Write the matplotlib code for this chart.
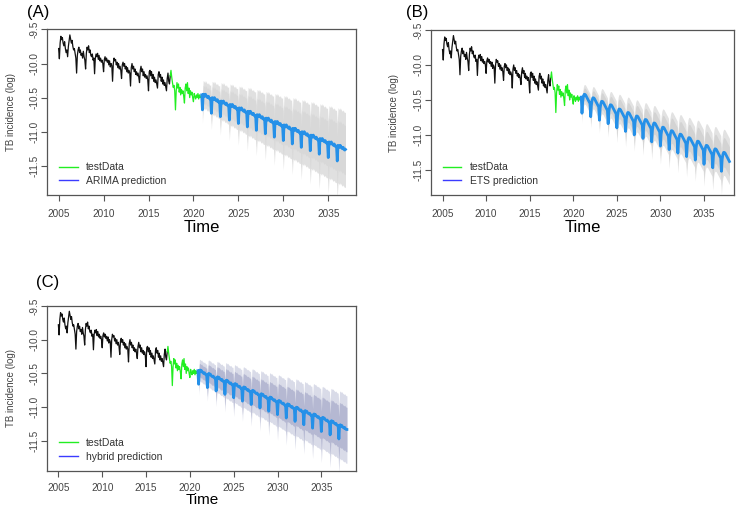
import numpy as np
import matplotlib
matplotlib.use("agg")
from matplotlib import pyplot as plt
from matplotlib.lines import Line2D

plt.rcParams['font.family'] = ['Liberation Sans', 'DejaVu Sans']

# observed series (log incidence), monthly from Jan 2005
train_start = 2005.0
train_vals = [
    -9.78, -9.93, -9.70, -9.60, -9.65, -9.62, -9.70, -9.74, -9.68, -9.78, -9.84, -9.80,
    -9.90, -9.75, -9.66, -9.58, -9.64, -9.70, -9.66, -9.75, -9.80, -9.78, -9.85, -9.92,
    -10.14, -9.88, -9.80, -9.76, -9.84, -9.80, -9.88, -9.85, -9.92, -9.82, -9.90, -9.95,
    -10.08, -9.85, -9.76, -9.80, -9.74, -9.84, -9.80, -9.88, -9.90, -9.86, -9.95, -9.92,
    -10.15, -9.92, -9.86, -9.90, -9.85, -9.94, -9.88, -9.96, -9.92, -9.98, -9.95, -10.00,
    -10.12, -9.94, -9.90, -9.96, -9.92, -9.98, -9.95, -10.02, -9.96, -10.05, -10.00, -10.03,
    -10.26, -10.00, -9.92, -9.96, -9.94, -10.02, -9.98, -10.06, -10.00, -10.08, -10.04, -10.10,
    -10.22, -10.02, -9.98, -10.04, -10.00, -10.08, -10.04, -10.12, -10.06, -10.14, -10.10, -10.14,
    -10.33, -10.06, -10.00, -10.08, -10.04, -10.12, -10.08, -10.16, -10.12, -10.18, -10.14, -10.20,
    -10.28, -10.10, -10.04, -10.12, -10.08, -10.18, -10.12, -10.20, -10.16, -10.22, -10.18, -10.24,
    -10.40, -10.12, -10.10, -10.18, -10.12, -10.22, -10.16, -10.26, -10.20, -10.28, -10.24, -10.30,
    -10.36, -10.16, -10.12, -10.20, -10.16, -10.26, -10.20, -10.30, -10.24, -10.32, -10.28, -10.34,
    -10.40, -10.22, -10.14, -10.26, -10.30, -10.18,
]
# test data, monthly from Jul 2017
test_vals = [
    -10.10, -10.20, -10.28, -10.35, -10.32, -10.40,
    -10.68, -10.40, -10.28, -10.36, -10.30, -10.42, -10.35, -10.46, -10.38, -10.44, -10.40, -10.48,
    -10.58, -10.36, -10.30, -10.40, -10.28, -10.44, -10.36, -10.50, -10.40, -10.46, -10.42, -10.50,
    -10.56, -10.44, -10.48, -10.52, -10.46, -10.50, -10.44, -10.52, -10.46, -10.50, -10.48, -10.46,
]

# forecasts from Jan 2021: yearly level + monthly seasonal offset, interval half widths per year
arima_level = [-10.48, -10.53, -10.58, -10.63, -10.68, -10.73, -10.78, -10.83,
               -10.88, -10.93, -10.98, -11.03, -11.08, -11.13, -11.18, -11.23]
arima_season = [-0.20, 0.03, 0.02, 0.00, 0.03, 0.01, -0.01, -0.02, 0.00, -0.03, -0.04, -0.03]
arima_w95 = [0.20, 0.24, 0.27, 0.30, 0.32, 0.35, 0.37, 0.39,
             0.41, 0.43, 0.45, 0.47, 0.49, 0.51, 0.53, 0.55]
arima_w80 = [0.13, 0.16, 0.18, 0.20, 0.21, 0.23, 0.24, 0.25,
             0.27, 0.28, 0.29, 0.31, 0.32, 0.33, 0.35, 0.36]

ets_level = [-10.47, -10.52, -10.57, -10.62, -10.68, -10.73, -10.78, -10.83, -10.88,
             -10.94, -10.99, -11.04, -11.09, -11.14, -11.20, -11.25, -11.30]
ets_season = [-0.22, -0.05, 0.02, 0.05, 0.05, 0.04, 0.02, 0.00, -0.02, -0.04, -0.06, -0.08]
ets_w95 = [0.14, 0.16, 0.18, 0.19, 0.21, 0.22, 0.23, 0.24, 0.25,
           0.26, 0.27, 0.28, 0.29, 0.30, 0.31, 0.32, 0.33]
ets_w80 = [0.09, 0.10, 0.12, 0.12, 0.14, 0.14, 0.15, 0.16, 0.16,
           0.17, 0.18, 0.18, 0.19, 0.20, 0.20, 0.21, 0.21]

hybrid_level = [-10.48, -10.53, -10.58, -10.63, -10.68, -10.73, -10.78, -10.83, -10.88,
                -10.93, -10.98, -11.03, -11.08, -11.13, -11.18, -11.23, -11.29]
hybrid_season = [-0.18, 0.02, 0.03, 0.01, 0.02, 0.00, -0.01, -0.02, -0.01, -0.03, -0.04, -0.04]
hybrid_w95 = [0.16, 0.20, 0.23, 0.26, 0.28, 0.30, 0.32, 0.34, 0.36,
              0.38, 0.40, 0.42, 0.43, 0.45, 0.46, 0.48, 0.50]
hybrid_w80 = [0.10, 0.13, 0.15, 0.17, 0.18, 0.20, 0.21, 0.22, 0.23,
              0.25, 0.26, 0.27, 0.28, 0.29, 0.30, 0.31, 0.33]

panels = [
    # tag, name, level, season, w95, w80, axes rect, xlim, ylim, band colours,
    # tag pos, x tick pad, xlabel pad, xlabel size
    ("(A)", "ARIMA prediction", arima_level, arima_season, arima_w95, arima_w80,
     [0.0633, 0.616, 0.416, 0.326], (2003.71, 2038.1), (-11.93, -9.5),
     ("#e0e0e0", "#d8d8d8"), (0.037, 0.975), 6, 0.5, 12),
    ("(B)", "ETS prediction", ets_level, ets_season, ets_w95, ets_w80,
     [0.580, 0.616, 0.408, 0.325], (2003.67, 2038.45), (-11.86, -9.5),
     ("#e2e2e2", "#d3d3d3"), (0.546, 0.975), 6, 0.5, 12),
    ("(C)", "hybrid prediction", hybrid_level, hybrid_season, hybrid_w95, hybrid_w80,
     [0.0637, 0.0734, 0.416, 0.3245], (2003.74, 2039.0), (-11.94, -9.5),
     ("#d9dbe8", "#b5b8d2"), (0.049, 0.443), 4.5, 0.0, 11),
]

tick_col = "#444444"
fig = plt.figure(figsize=(7.43, 5.08), dpi=100)

t_train = train_start + np.arange(len(train_vals)) / 12
t_test = 2017.5 + np.arange(len(test_vals)) / 12
# join the segments so the lines touch
t_test = np.concatenate([[t_train[-1]], t_test])
y_test = np.concatenate([[train_vals[-1]], test_vals])

for (tag, name, level, season, w95, w80, rect, xlim, ylim, bands,
     tpos, tpad, xpad, xsize) in panels:
    ax = fig.add_axes(rect)
    mean = (np.array(level)[:, None] + np.array(season)[None, :]).ravel()
    h95 = np.repeat(w95, 12)
    h80 = np.repeat(w80, 12)
    t_fc = 2021.0 + np.arange(len(mean)) / 12

    ax.fill_between(t_fc, mean - h95, mean + h95, color=bands[0], lw=0)
    ax.fill_between(t_fc, mean - h80, mean + h80, color=bands[1], lw=0)
    ax.plot(t_train, train_vals, color="#111111", lw=0.9)
    ax.plot(t_test, y_test, color="#22ee22", lw=0.9)
    fc_t = np.concatenate([[t_test[-1]], t_fc])
    fc_y = np.concatenate([[y_test[-1]], mean])
    ax.plot(fc_t, fc_y, color="#2590e8", lw=2.0)

    ax.set_xlim(xlim)
    ax.set_ylim(ylim)
    ax.set_xticks([2005, 2010, 2015, 2020, 2025, 2030, 2035])
    ax.set_yticks([-9.5, -10.0, -10.5, -11.0, -11.5])
    ax.set_yticklabels(["-9.5", "-10.0", "-10.5", "-11.0", "-11.5"], rotation=90, va="center")
    ax.tick_params(colors="#555555", labelcolor=tick_col, labelsize=7.2, length=4, width=0.8)
    ax.tick_params(axis="x", pad=tpad)
    ax.tick_params(axis="y", pad=1.5)
    for s in ax.spines.values():
        s.set_color("#555555")
        s.set_linewidth(0.9)
    ax.set_xlabel("Time", fontsize=xsize, labelpad=xpad)
    ax.set_ylabel("TB incidence (log)", fontsize=7, color=tick_col, labelpad=10)

    handles = [Line2D([], [], color="#22ee22", lw=1),
               Line2D([], [], color="#3b3bff", lw=1)]
    ax.legend(handles, ["testData", name], loc="lower left", frameon=False,
              fontsize=7.5, handlelength=1.8, handletextpad=0.8, borderaxespad=0,
              labelspacing=0.35, bbox_to_anchor=(0.025, 0.03), labelcolor="#333333")

    fig.text(tpos[0], tpos[1], tag, fontsize=12, va="center")

fig.savefig("out.png", dpi=100)
